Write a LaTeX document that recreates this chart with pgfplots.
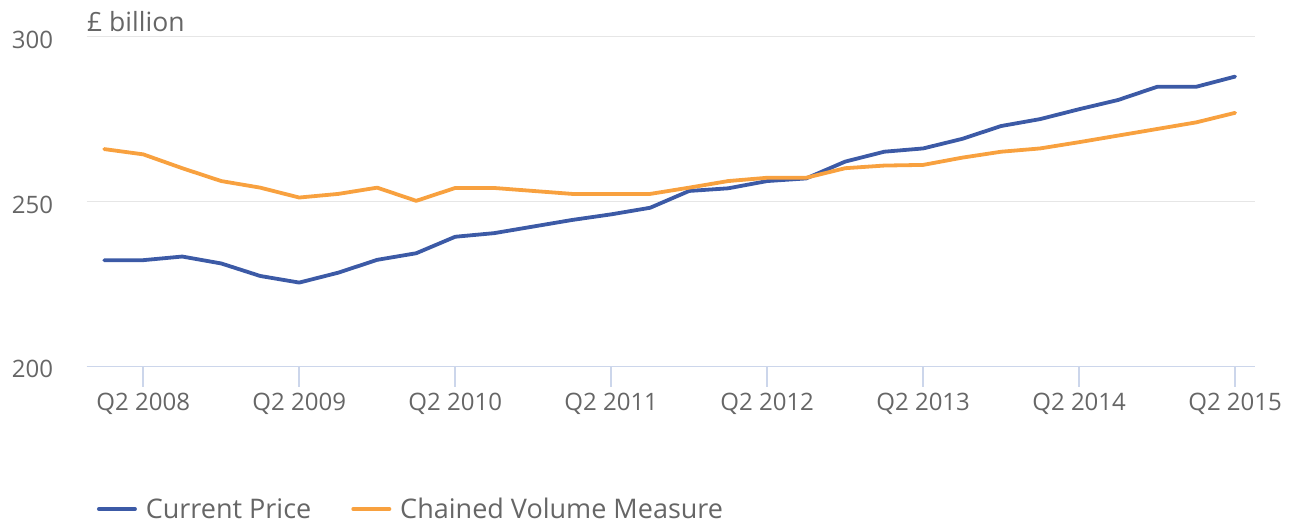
\documentclass[border=0pt]{standalone}
\usepackage{fontspec}
\setmainfont{Open Sans}
\usepackage{pgfplots}
\pgfplotsset{compat=1.18}
\definecolor{cpblue}{HTML}{3C5AA6}
\definecolor{cvorange}{HTML}{F8A13F}
\definecolor{gridc}{HTML}{E6E6E6}
\definecolor{axisc}{HTML}{CCD6EB}
\definecolor{txt}{HTML}{666666}
\begin{document}
\begin{tikzpicture}[x=1pt,y=1pt]
\path[use as bounding box] (0,0) rectangle (1293,524);
\begin{axis}[
  at={(86.7pt,157.7pt)}, anchor=south west,
  scale only axis, width=1168.3pt, height=329.6pt,
  xmin=-0.45, xmax=29.51, ymin=200, ymax=300,
  clip=false,
  /pgf/number format/assume math mode=true,
  axis line style={draw=none},
  axis x line*=bottom,
  x axis line style={draw=axisc, line width=1.5pt},
  ytick={200,250,300},
  ymajorgrids, grid style={gridc, line width=1.5pt},
  y tick style={draw=none},
  yticklabel style={anchor=east, inner sep=0pt, xshift=-13pt, yshift=-3pt, font=\fontsize{24}{28}\selectfont, text=txt},
  xtick={1,5,9,13,17,21,25,29},
  xticklabels={Q2 2008,Q2 2009,Q2 2010,Q2 2011,Q2 2012,Q2 2013,Q2 2014,Q2 2015},
  x tick style={draw=axisc, line width=1.5pt},
  tick align=outside, major tick length=20.5pt,
  xticklabel style={anchor=base, inner sep=0pt, yshift=-23.5pt, font=\fontsize{24}{28}\selectfont, text=txt},
  legend columns=2,
  legend style={at={(0.0086,-0.433)}, anchor=west, draw=none, fill=none, inner sep=0pt,
    font=\fontsize{27}{31}\selectfont, text=txt,
    /tikz/every even column/.append style={column sep=38pt}},
  legend image code/.code={\draw[#1, line width=4pt] (0pt,0pt) -- (36pt,0pt); \path (43pt,0pt);},
  legend cell align=left,
]
\addplot[cpblue, line width=3.8pt, line join=round, line cap=round] coordinates {
(0,232.2) (1,232.2) (2,233.3) (3,231.2) (4,227.4) (5,225.4) (6,228.4) (7,232.3) (8,234.3) (9,239.3)
(10,240.4) (11,242.4) (12,244.4) (13,246.1) (14,248.1) (15,253.2) (16,254.0) (17,256.2) (18,257.0) (19,262.1)
(20,265.1) (21,266.1) (22,269.0) (23,272.9) (24,275.0) (25,278.0) (26,280.8) (27,284.8) (28,284.8) (29,287.9)};
\addlegendentry{Current Price}
\addplot[cvorange, line width=3.8pt, line join=round, line cap=round] coordinates {
(0,265.9) (1,264.3) (2,260.1) (3,256.2) (4,254.2) (5,251.2) (6,252.3) (7,254.2) (8,250.2) (9,254.1)
(10,254.1) (11,253.2) (12,252.3) (13,252.3) (14,252.3) (15,254.2) (16,256.2) (17,257.2) (18,257.2) (19,260.1)
(20,260.9) (21,261.1) (22,263.3) (23,265.1) (24,266.1) (25,268.0) (26,270.0) (27,272.0) (28,274.0) (29,276.9)};
\addlegendentry{Chained Volume Measure}
\end{axis}
\node[anchor=base west, inner sep=0pt, text=txt, font=\fontsize{26.5}{30}\selectfont] at (87,492.3) {£ billion};
\end{tikzpicture}
\end{document}
